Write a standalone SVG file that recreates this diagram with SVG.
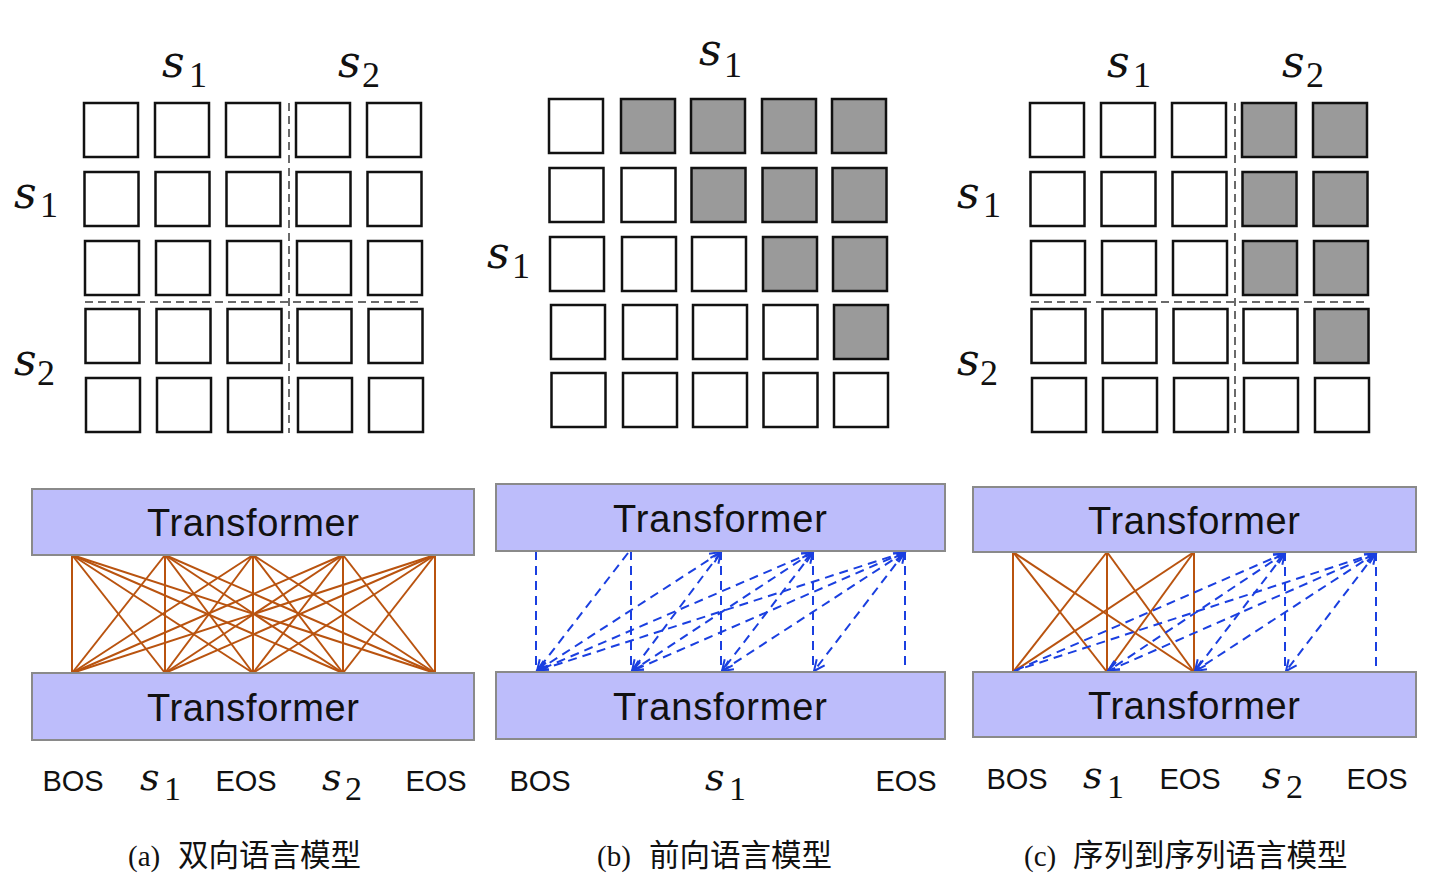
<svg xmlns="http://www.w3.org/2000/svg" width="1430" height="887" viewBox="0 0 1430 887">
<style>
.bg{fill:#ffffff}
.cell{fill:#ffffff;stroke:#111;stroke-width:2.5}
.cell.g{fill:#9a9a9a}
.div{stroke:#6a6a6a;stroke-width:2;stroke-dasharray:8,5;fill:none}
.tf{fill:#bdbdfb;stroke:#8a8a8a;stroke-width:2}
.tft{font-family:"Liberation Sans",Arial,sans-serif;font-size:38px;fill:#111;text-anchor:middle}
.tok{font-family:"Liberation Sans",Arial,sans-serif;font-size:29px;fill:#111;text-anchor:middle}
.ms{font-family:"DejaVu Serif","Liberation Serif",serif;font-style:italic;fill:#111}
.md{font-family:"Liberation Serif","Times New Roman",serif;fill:#111}
.or{stroke:#b9530f;stroke-width:2;fill:none}
.bl{stroke:#1a3fe0;stroke-width:2;stroke-dasharray:9,6;fill:none}
.cap{font-family:"Liberation Serif","Times New Roman",serif;font-size:29px;fill:#111}
.capz{font-family:"Noto Sans CJK SC","Liberation Serif",sans-serif;font-size:30.5px;fill:#111}
</style>
<defs>
<marker id="ah" markerUnits="userSpaceOnUse" markerWidth="16" markerHeight="16" viewBox="0 0 16 16" refX="14" refY="8" orient="auto-start-reverse">
<path d="M3,3 L14,8 L3,13" fill="none" stroke="#1a3fe0" stroke-width="2"/>
</marker>
</defs>
<rect class="bg" x="0" y="0" width="1430" height="887"/>

<!-- Panel (a) matrix -->
<g id="matrix-a">
<rect class="cell" x="84" y="103" width="54" height="54"/><rect class="cell" x="155" y="103" width="54" height="54"/><rect class="cell" x="226" y="103" width="54" height="54"/><rect class="cell" x="296" y="103" width="54" height="54"/><rect class="cell" x="367" y="103" width="54" height="54"/>
<rect class="cell" x="84.5" y="172" width="54" height="54"/><rect class="cell" x="155.5" y="172" width="54" height="54"/><rect class="cell" x="226.5" y="172" width="54" height="54"/><rect class="cell" x="296.5" y="172" width="54" height="54"/><rect class="cell" x="367.5" y="172" width="54" height="54"/>
<rect class="cell" x="85" y="241" width="54" height="54"/><rect class="cell" x="156" y="241" width="54" height="54"/><rect class="cell" x="227" y="241" width="54" height="54"/><rect class="cell" x="297" y="241" width="54" height="54"/><rect class="cell" x="368" y="241" width="54" height="54"/>
<rect class="cell" x="85.5" y="309" width="54" height="54"/><rect class="cell" x="156.5" y="309" width="54" height="54"/><rect class="cell" x="227.5" y="309" width="54" height="54"/><rect class="cell" x="297.5" y="309" width="54" height="54"/><rect class="cell" x="368.5" y="309" width="54" height="54"/>
<rect class="cell" x="86" y="378" width="54" height="54"/><rect class="cell" x="157" y="378" width="54" height="54"/><rect class="cell" x="228" y="378" width="54" height="54"/><rect class="cell" x="298" y="378" width="54" height="54"/><rect class="cell" x="369" y="378" width="54" height="54"/>
<line class="div" x1="289" y1="103" x2="289" y2="433"/>
<line class="div" x1="85" y1="302" x2="418" y2="302"/>
<text class="ms" x="162" y="77" font-size="44">s</text><text class="md" x="189" y="87" font-size="36">1</text>
<text class="ms" x="338" y="77" font-size="44">s</text><text class="md" x="362" y="87" font-size="36">2</text>
<text class="ms" x="14" y="208" font-size="44">s</text><text class="md" x="40" y="217" font-size="36">1</text>
<text class="ms" x="14" y="375" font-size="44">s</text><text class="md" x="37" y="385" font-size="36">2</text>
</g>

<!-- Panel (b) matrix -->
<g id="matrix-b">
<rect class="cell" x="549" y="99" width="54" height="54"/><rect class="cell g" x="621" y="99" width="54" height="54"/><rect class="cell g" x="691" y="99" width="54" height="54"/><rect class="cell g" x="762" y="99" width="54" height="54"/><rect class="cell g" x="832" y="99" width="54" height="54"/>
<rect class="cell" x="549.5" y="168" width="54" height="54"/><rect class="cell" x="621.5" y="168" width="54" height="54"/><rect class="cell g" x="691.5" y="168" width="54" height="54"/><rect class="cell g" x="762.5" y="168" width="54" height="54"/><rect class="cell g" x="832.5" y="168" width="54" height="54"/>
<rect class="cell" x="550" y="237" width="54" height="54"/><rect class="cell" x="622" y="237" width="54" height="54"/><rect class="cell" x="692" y="237" width="54" height="54"/><rect class="cell g" x="763" y="237" width="54" height="54"/><rect class="cell g" x="833" y="237" width="54" height="54"/>
<rect class="cell" x="551" y="305" width="54" height="54"/><rect class="cell" x="623" y="305" width="54" height="54"/><rect class="cell" x="693" y="305" width="54" height="54"/><rect class="cell" x="763.5" y="305" width="54" height="54"/><rect class="cell g" x="834" y="305" width="54" height="54"/>
<rect class="cell" x="551.5" y="373" width="54" height="54"/><rect class="cell" x="623" y="373" width="54" height="54"/><rect class="cell" x="693" y="373" width="54" height="54"/><rect class="cell" x="763.5" y="373" width="54" height="54"/><rect class="cell" x="834" y="373" width="54" height="54"/>
<text class="ms" x="699" y="65" font-size="44">s</text><text class="md" x="724" y="77" font-size="36">1</text>
<text class="ms" x="487" y="268" font-size="44">s</text><text class="md" x="512" y="278" font-size="36">1</text>
</g>

<!-- Panel (c) matrix -->
<g id="matrix-c">
<rect class="cell" x="1030" y="103" width="54" height="54"/><rect class="cell" x="1101" y="103" width="54" height="54"/><rect class="cell" x="1172" y="103" width="54" height="54"/><rect class="cell g" x="1242" y="103" width="54" height="54"/><rect class="cell g" x="1313" y="103" width="54" height="54"/>
<rect class="cell" x="1030.5" y="172" width="54" height="54"/><rect class="cell" x="1101.5" y="172" width="54" height="54"/><rect class="cell" x="1172.5" y="172" width="54" height="54"/><rect class="cell g" x="1242.5" y="172" width="54" height="54"/><rect class="cell g" x="1313.5" y="172" width="54" height="54"/>
<rect class="cell" x="1031" y="241" width="54" height="54"/><rect class="cell" x="1102" y="241" width="54" height="54"/><rect class="cell" x="1173" y="241" width="54" height="54"/><rect class="cell g" x="1243" y="241" width="54" height="54"/><rect class="cell g" x="1314" y="241" width="54" height="54"/>
<rect class="cell" x="1031.5" y="309" width="54" height="54"/><rect class="cell" x="1102.5" y="309" width="54" height="54"/><rect class="cell" x="1173.5" y="309" width="54" height="54"/><rect class="cell" x="1243.5" y="309" width="54" height="54"/><rect class="cell g" x="1314.5" y="309" width="54" height="54"/>
<rect class="cell" x="1032" y="378" width="54" height="54"/><rect class="cell" x="1103" y="378" width="54" height="54"/><rect class="cell" x="1174" y="378" width="54" height="54"/><rect class="cell" x="1244" y="378" width="54" height="54"/><rect class="cell" x="1315" y="378" width="54" height="54"/>
<line class="div" x1="1235" y1="103" x2="1235" y2="433"/>
<line class="div" x1="1031" y1="302" x2="1364" y2="302"/>
<text class="ms" x="1107" y="77" font-size="44">s</text><text class="md" x="1133" y="87" font-size="36">1</text>
<text class="ms" x="1282" y="77" font-size="44">s</text><text class="md" x="1306" y="87" font-size="36">2</text>
<text class="ms" x="957" y="208" font-size="44">s</text><text class="md" x="983" y="217" font-size="36">1</text>
<text class="ms" x="957" y="375" font-size="44">s</text><text class="md" x="980" y="385" font-size="36">2</text>
</g>

<!-- Connectors -->
<g id="connectors">
<!-- (a) full bidirectional -->
<g>
<line class="or" x1="72" y1="555" x2="72" y2="673"/><line class="or" x1="72" y1="555" x2="165" y2="673"/><line class="or" x1="72" y1="555" x2="253" y2="673"/><line class="or" x1="72" y1="555" x2="343" y2="673"/><line class="or" x1="72" y1="555" x2="435" y2="673"/>
<line class="or" x1="165" y1="555" x2="72" y2="673"/><line class="or" x1="165" y1="555" x2="165" y2="673"/><line class="or" x1="165" y1="555" x2="253" y2="673"/><line class="or" x1="165" y1="555" x2="343" y2="673"/><line class="or" x1="165" y1="555" x2="435" y2="673"/>
<line class="or" x1="253" y1="555" x2="72" y2="673"/><line class="or" x1="253" y1="555" x2="165" y2="673"/><line class="or" x1="253" y1="555" x2="253" y2="673"/><line class="or" x1="253" y1="555" x2="343" y2="673"/><line class="or" x1="253" y1="555" x2="435" y2="673"/>
<line class="or" x1="343" y1="555" x2="72" y2="673"/><line class="or" x1="343" y1="555" x2="165" y2="673"/><line class="or" x1="343" y1="555" x2="253" y2="673"/><line class="or" x1="343" y1="555" x2="343" y2="673"/><line class="or" x1="343" y1="555" x2="435" y2="673"/>
<line class="or" x1="435" y1="555" x2="72" y2="673"/><line class="or" x1="435" y1="555" x2="165" y2="673"/><line class="or" x1="435" y1="555" x2="253" y2="673"/><line class="or" x1="435" y1="555" x2="343" y2="673"/><line class="or" x1="435" y1="555" x2="435" y2="673"/>
</g>
<!-- (b) forward -->
<g>
<line class="bl" x1="536" y1="551" x2="536" y2="672"/><line class="bl" x1="631" y1="551" x2="631" y2="672"/><line class="bl" x1="721" y1="551" x2="721" y2="672"/><line class="bl" x1="813" y1="551" x2="813" y2="672"/><line class="bl" x1="905" y1="551" x2="905" y2="672"/>
<line class="bl" x1="628" y1="553" x2="537" y2="671" marker-end="url(#ah)"/>
<line class="bl" x1="721" y1="552" x2="537" y2="671" marker-start="url(#ah)" marker-end="url(#ah)"/>
<line class="bl" x1="721" y1="552" x2="632" y2="671" marker-start="url(#ah)" marker-end="url(#ah)"/>
<line class="bl" x1="813" y1="552" x2="537" y2="671" marker-start="url(#ah)" marker-end="url(#ah)"/>
<line class="bl" x1="813" y1="552" x2="632" y2="671" marker-start="url(#ah)" marker-end="url(#ah)"/>
<line class="bl" x1="813" y1="552" x2="722" y2="671" marker-start="url(#ah)" marker-end="url(#ah)"/>
<line class="bl" x1="905" y1="552" x2="537" y2="671" marker-start="url(#ah)" marker-end="url(#ah)"/>
<line class="bl" x1="905" y1="552" x2="632" y2="671" marker-start="url(#ah)" marker-end="url(#ah)"/>
<line class="bl" x1="905" y1="552" x2="722" y2="671" marker-start="url(#ah)" marker-end="url(#ah)"/>
<line class="bl" x1="905" y1="552" x2="814" y2="671" marker-start="url(#ah)" marker-end="url(#ah)"/>
</g>
<!-- (c) seq2seq -->
<g>
<line class="or" x1="1013" y1="552" x2="1013" y2="672"/><line class="or" x1="1013" y1="552" x2="1107" y2="672"/><line class="or" x1="1013" y1="552" x2="1194" y2="672"/>
<line class="or" x1="1107" y1="552" x2="1013" y2="672"/><line class="or" x1="1107" y1="552" x2="1107" y2="672"/><line class="or" x1="1107" y1="552" x2="1194" y2="672"/>
<line class="or" x1="1194" y1="552" x2="1013" y2="672"/><line class="or" x1="1194" y1="552" x2="1107" y2="672"/><line class="or" x1="1194" y1="552" x2="1194" y2="672"/>
<line class="bl" x1="1285" y1="552" x2="1285" y2="672"/><line class="bl" x1="1376" y1="552" x2="1376" y2="672"/>
<line class="bl" x1="1285" y1="553" x2="1014" y2="671" marker-start="url(#ah)"/>
<line class="bl" x1="1285" y1="553" x2="1108" y2="671" marker-start="url(#ah)" marker-end="url(#ah)"/>
<line class="bl" x1="1285" y1="553" x2="1195" y2="671" marker-start="url(#ah)" marker-end="url(#ah)"/>
<line class="bl" x1="1376" y1="553" x2="1014" y2="671" marker-start="url(#ah)"/>
<line class="bl" x1="1376" y1="553" x2="1108" y2="671" marker-start="url(#ah)" marker-end="url(#ah)"/>
<line class="bl" x1="1376" y1="553" x2="1195" y2="671" marker-start="url(#ah)" marker-end="url(#ah)"/>
<line class="bl" x1="1376" y1="553" x2="1286" y2="671" marker-start="url(#ah)" marker-end="url(#ah)"/>
</g>
</g>

<!-- Transformer blocks -->
<g id="tf-a-top"><rect class="tf" x="32" y="489" width="442" height="66"/><text class="tft" x="253" y="536" textLength="212" lengthAdjust="spacing">Transformer</text></g>
<g id="tf-a-bot"><rect class="tf" x="32" y="673" width="442" height="67"/><text class="tft" x="253" y="721" textLength="212" lengthAdjust="spacing">Transformer</text></g>
<g id="tf-b-top"><rect class="tf" x="496" y="484" width="449" height="67"/><text class="tft" x="720" y="532" textLength="214" lengthAdjust="spacing">Transformer</text></g>
<g id="tf-b-bot"><rect class="tf" x="496" y="672" width="449" height="67"/><text class="tft" x="720" y="720" textLength="214" lengthAdjust="spacing">Transformer</text></g>
<g id="tf-c-top"><rect class="tf" x="973" y="487" width="443" height="65"/><text class="tft" x="1194" y="534" textLength="212" lengthAdjust="spacing">Transformer</text></g>
<g id="tf-c-bot"><rect class="tf" x="973" y="672" width="443" height="65"/><text class="tft" x="1194" y="719" textLength="212" lengthAdjust="spacing">Transformer</text></g>

<!-- Token labels -->
<g id="tokens-a">
<text class="tok" x="73" y="791">BOS</text>
<text class="ms" x="140" y="790" font-size="38">s</text><text class="md" x="164" y="800" font-size="34">1</text>
<text class="tok" x="246" y="791">EOS</text>
<text class="ms" x="322" y="790" font-size="38">s</text><text class="md" x="345" y="800" font-size="34">2</text>
<text class="tok" x="436" y="791">EOS</text>
</g>
<g id="tokens-b">
<text class="tok" x="540" y="791">BOS</text>
<text class="ms" x="705" y="790" font-size="38">s</text><text class="md" x="729" y="800" font-size="34">1</text>
<text class="tok" x="906" y="791">EOS</text>
</g>
<g id="tokens-c">
<text class="tok" x="1017" y="789">BOS</text>
<text class="ms" x="1083" y="788" font-size="38">s</text><text class="md" x="1107" y="798" font-size="34">1</text>
<text class="tok" x="1190" y="789">EOS</text>
<text class="ms" x="1262" y="788" font-size="38">s</text><text class="md" x="1286" y="798" font-size="34">2</text>
<text class="tok" x="1377" y="789">EOS</text>
</g>

<!-- Captions -->
<g id="captions">
<text class="cap" x="128" y="866">(a)</text><text class="capz" x="178" y="866">双向语言模型</text>
<text class="cap" x="597" y="866">(b)</text><text class="capz" x="649" y="866">前向语言模型</text>
<text class="cap" x="1024" y="866">(c)</text><text class="capz" x="1073" y="866">序列到序列语言模型</text>
</g>
</svg>
